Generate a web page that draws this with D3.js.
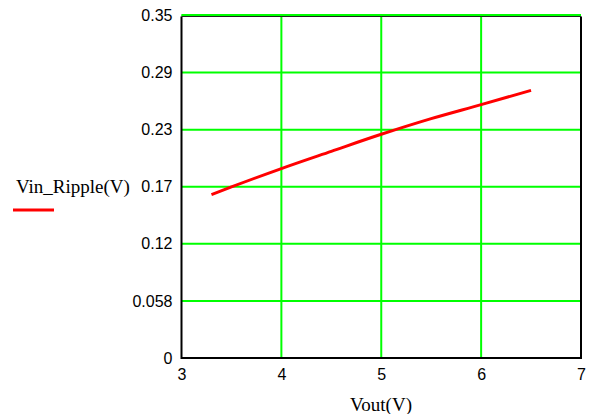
<!DOCTYPE html>
<html><head><meta charset="utf-8">
<script src="https://cdn.jsdelivr.net/npm/d3@7/dist/d3.min.js"></script>
<style>html,body{margin:0;padding:0;background:#fff;}</style>
</head><body>
<svg id="c" width="591" height="414"></svg>
<script>
const xTicks = [3, 4, 5, 6, 7];
const yTickValues = [0, 0.35/6, 0.35*2/6, 0.35*3/6, 0.35*4/6, 0.35*5/6, 0.35];
const yTickLabels = ["0", "0.058", "0.12", "0.17", "0.23", "0.29", "0.35"];
const vout = [3.3, 3.5, 4, 4.5, 5, 5.5, 6, 6.5];
const ripple = [0.167, 0.1748, 0.1936, 0.2112, 0.2286, 0.2446, 0.2589, 0.2735];
const xLabel = "Vout(V)";
const yLabel = "Vin_Ripple(V)";

const svg = d3.select("#c");
const L = 181.5, R = 581, T = 15.5, B = 358;
const x = d3.scaleLinear().domain([3, 7]).range([L, R]);
const y = d3.scaleLinear().domain([0, 0.35]).range([B, T]);

// grid
const g = svg.append("g");
g.selectAll("line.v").data(xTicks.slice(1, -1)).join("line")
  .attr("x1", d => x(d)).attr("x2", d => x(d)).attr("y1", T).attr("y2", B)
  .attr("stroke", "#00ff00").attr("stroke-width", 2);
g.selectAll("line.h").data(yTickValues.slice(1)).join("line")
  .attr("x1", L).attr("x2", R).attr("y1", d => y(d)).attr("y2", d => y(d))
  .attr("stroke", "#00ff00").attr("stroke-width", 2);

// frame: left, bottom, right black; top green over black
svg.append("path").attr("d", `M${L},${T+1}V${B}H${R}V${T+1}`)
  .attr("fill", "none").attr("stroke", "#000").attr("stroke-width", 2);
svg.append("line").attr("x1", L).attr("x2", R).attr("y1", T+1).attr("y2", T+1)
  .attr("stroke", "#222").attr("stroke-width", 1);
svg.append("line").attr("x1", L).attr("x2", R).attr("y1", T-0.5).attr("y2", T-0.5)
  .attr("stroke", "#00ff00").attr("stroke-width", 2);

// axes labels via d3 axes
const yAxis = d3.axisLeft(y).tickValues(yTickValues).tickSize(0).tickPadding(9)
  .tickFormat((d, i) => yTickLabels[i]);
const ya = svg.append("g").attr("transform", `translate(${L},0)`).call(yAxis);
ya.select(".domain").remove();
ya.selectAll("text").attr("font-family", "Liberation Sans, Arial, sans-serif").attr("font-size", 16).attr("fill", "#000");

const xAxis = d3.axisBottom(x).tickValues(xTicks).tickSize(0).tickPadding(11)
  .tickFormat(d3.format("d"));
const xa = svg.append("g").attr("transform", `translate(0,${B})`).call(xAxis);
xa.select(".domain").remove();
xa.selectAll("text").attr("font-family", "Liberation Sans, Arial, sans-serif").attr("font-size", 16).attr("fill", "#000");

// data line
const pts = vout.map((v, i) => [v, ripple[i]]);
svg.append("path").datum(pts)
  .attr("d", d3.line().x(d => x(d[0])).y(d => y(d[1])).curve(d3.curveMonotoneX))
  .attr("fill", "none").attr("stroke", "#ff0000").attr("stroke-width", 3);

// titles
svg.append("text").attr("x", 381).attr("y", 411).attr("text-anchor", "middle")
  .attr("font-family", "Liberation Serif, Times New Roman, serif").attr("font-size", 19)
  .text(xLabel);
svg.append("text").attr("x", 16).attr("y", 193)
  .attr("font-family", "Liberation Serif, Times New Roman, serif").attr("font-size", 19)
  .text(yLabel);
svg.append("line").attr("x1", 13).attr("x2", 54).attr("y1", 210).attr("y2", 210)
  .attr("stroke", "#ff0000").attr("stroke-width", 3);
</script>
</body></html>
